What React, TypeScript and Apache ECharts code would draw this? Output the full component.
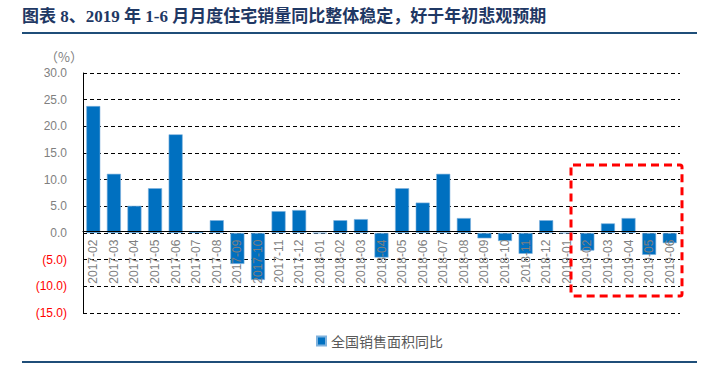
import React, { useEffect, useRef } from "react";
import * as echarts from "echarts";

const categories = [
  "2017-02", "2017-03", "2017-04", "2017-05", "2017-06", "2017-07", "2017-08", "2017-09", "2017-10", "2017-11", "2017-12",
  "2018-01", "2018-02", "2018-03", "2018-04", "2018-05", "2018-06", "2018-07", "2018-08", "2018-09", "2018-10", "2018-11", "2018-12",
  "2019-01", "2019-02", "2019-03", "2019-04", "2019-05", "2019-06",
];
const salesAreaYoY = [
  23.8, 11.1, 5.1, 8.4, 18.5, 0.3, 2.4, -5.8, -8.8, 4.1, 4.3,
  0, 2.4, 2.6, -4.6, 8.4, 5.7, 11.1, 2.8, -1.0, -1.5, -3.9, 2.4,
  0, -3.3, 1.8, 2.8, -4.1, -1.9,
];
const seriesName = "全国销售面积同比";
const titleText = "图表 8、2019 年 1-6 月月度住宅销量同比整体稳定，好于年初悲观预期";
const unitText = "（%）";

export default function App() {
  const ref = useRef<HTMLDivElement>(null);
  useEffect(() => {
    if (!ref.current) return;
    const chart = echarts.init(ref.current, undefined, { renderer: "svg" });
    const gridBottom = 53;
    chart.setOption({
      animation: false,
      backgroundColor: "#ffffff",
      grid: { left: 83, right: 28, top: 73, bottom: gridBottom, containLabel: false },
      legend: {
        data: [seriesName],
        left: 311,
        top: 329,
        icon: "rect",
        itemWidth: 9,
        itemHeight: 9,
        itemGap: 4,
        textStyle: { color: "#595959", fontSize: 14, fontFamily: "Noto Sans CJK SC" },
      },
      xAxis: {
        type: "category",
        data: categories,
        axisLine: { show: true, onZero: false, lineStyle: { color: "#000", width: 1 } },
        axisTick: { show: false },
        axisLabel: {
          interval: 0,
          rotate: 90,
          margin: 8,
          color: "#7f7f7f",
          fontSize: 12,
          fontFamily: "Liberation Sans, Arial, sans-serif",
        },
        z: 10,
      },
      yAxis: {
        type: "value",
        min: -15,
        max: 30,
        interval: 5,
        axisLine: { show: true, lineStyle: { color: "#000", width: 1 } },
        axisTick: { show: false },
        axisLabel: {
          margin: 16,
          fontSize: 12,
          fontFamily: "Liberation Sans, Arial, sans-serif",
          color: (v: any) => (Number(v) < 0 ? "#ff0000" : "#7f7f7f"),
          formatter: (v: number) => (v < 0 ? "(" + Math.abs(v).toFixed(1) + ")" : v.toFixed(1)),
        },
        splitLine: { show: true, lineStyle: { color: "#000", type: [4, 3], width: 1 } },
      },
      series: [
        {
          name: seriesName,
          type: "bar",
          data: salesAreaYoY,
          barCategoryGap: "32%",
          itemStyle: { color: "#0070C0", borderColor: "#7fb2dd", borderWidth: 0.6 },
        },
      ],
      graphic: [
        {
          type: "text",
          left: 22,
          top: 8,
          style: {
            text: titleText,
            fill: "#1F3864",
            font: "bold 17px 'Liberation Serif', 'Noto Sans CJK SC', serif",
          },
        },
        {
          type: "line",
          shape: { x1: 22, y1: 33, x2: 697, y2: 33 },
          style: { stroke: "#1F4E79", lineWidth: 2 },
        },
        {
          type: "line",
          shape: { x1: 22, y1: 362, x2: 697, y2: 362 },
          style: { stroke: "#1F4E79", lineWidth: 2 },
        },
        {
          type: "text",
          x: 64,
          y: 56,
          style: {
            text: unitText,
            fill: "#7f7f7f",
            align: "center",
            verticalAlign: "middle",
            font: "13px 'Noto Sans CJK SC', sans-serif",
          },
        },
        {
          type: "rect",
          shape: { x: 571, y: 165, width: 111, height: 131, r: 2 },
          style: { fill: "none", stroke: "#ff0000", lineWidth: 3, lineDash: [8, 5] },
          z: 100,
        },
      ],
    });
    const zeroY = chart.convertToPixel({ yAxisIndex: 0 }, 0) as number;
    const bottomY = 366 - gridBottom;
    if (typeof zeroY === "number" && isFinite(zeroY)) {
      chart.setOption({ xAxis: { offset: -(bottomY - zeroY) } });
    }
    return () => chart.dispose();
  }, []);
  return <div ref={ref} style={{ width: 708, height: 366, position: "absolute", left: 0, top: 0 }} />;
}
